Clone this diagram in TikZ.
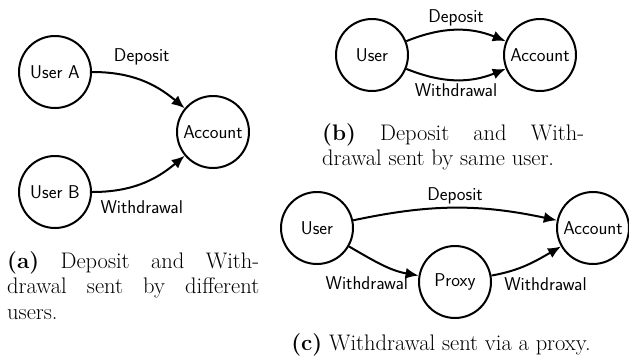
\documentclass[tikz,border=0pt]{standalone}
\usepackage{fontspec}
\usetikzlibrary{arrows.meta,positioning}
\tikzset{
  actor/.style={draw=black, circle, line width=2pt, minimum size=72pt, inner sep=0pt,
    font=\sffamily\fontsize{18.5}{21}\selectfont},
  msg/.style={-{Latex[length=13pt,width=11pt]}, line width=2pt},
  lbl/.style={font=\sffamily\fontsize{18.5}{21}\selectfont, inner sep=2pt},
  capt/.style={font=\fontsize{22.5}{25.5}\selectfont, inner sep=0pt, anchor=base west}
}

\begin{document}
\begin{tikzpicture}[x=1pt, y=-1pt]
  \useasboundingbox (0,0) rectangle (629,360);
  \node[actor] (usera) at (55,72) {User A};
  \node[actor] (userb) at (55,192) {User B};
  \node[actor] (acca) at (213,132) {Account};
  \draw[msg] (usera) to[out=0, in=140]
    node[lbl, pos=0.5, above=13pt] (depa) {Deposit} (acca);
  \draw[msg] (userb) to[out=0, in=-140]
    node[lbl, pos=0.5, below=14pt] (wda) {Withdrawal} (acca);
  \node[capt, text width=252pt, align=justify] (capa) at (7,268)
    {\textbf{(a)} Deposit and With-\linebreak drawal sent by different\linebreak users.};

  \node[actor] (userb1) at (372,55) {User};
  \node[actor] (accb) at (540,55) {Account};
  \draw[msg] (userb1) to[bend left=22]
    node[lbl, above=1pt] (depb) {Deposit} (accb);
  \draw[msg] (userb1) to[bend right=22]
    node[lbl, below=1pt] (wdb) {Withdrawal} (accb);
  \node[capt, text width=262pt, align=justify] (capb) at (322,140)
    {\textbf{(b)} Deposit and With-\linebreak drawal sent by same user.};

  \node[actor] (userc) at (317,228) {User};
  \node[actor] (proxy) at (455,282) {Proxy};
  \node[actor] (accc) at (593,228) {Account};
  \draw[msg] (userc) to[bend left=12]
    node[lbl, above=1pt] (depc) {Deposit} (accc);
  \draw[msg] (userc) to[out=-30, in=170]
    node[lbl, pos=0.75, below left=3pt and -12pt] (wdc1) {Withdrawal} (proxy);
  \draw[msg] (proxy) to[out=10, in=-150]
    node[lbl, pos=0.2, below right=3pt and -6pt] (wdc2) {Withdrawal} (accc);
  \node[capt, anchor=base] (capc) at (441,350)
    {\textbf{(c)} Withdrawal sent via a proxy.};
\end{tikzpicture}
\end{document}
